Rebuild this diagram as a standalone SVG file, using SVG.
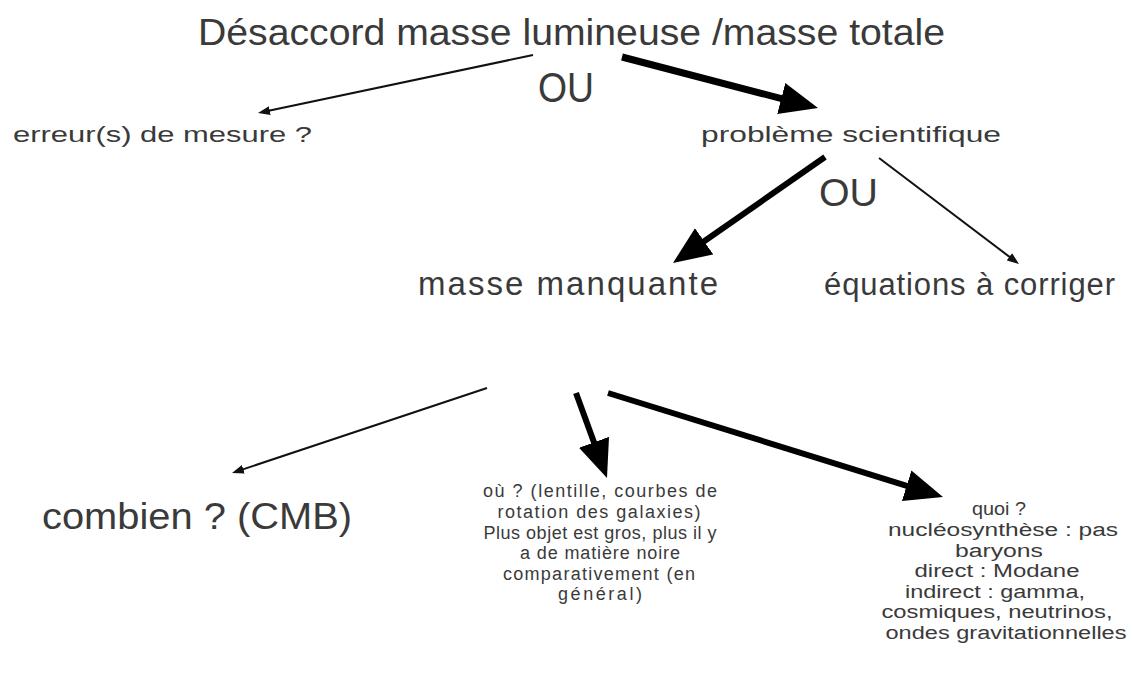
<svg xmlns="http://www.w3.org/2000/svg" width="1133" height="686" viewBox="0 0 1133 686">
<style>
text{font-family:"Liberation Sans",Arial,sans-serif;fill:#3a3a3a}
.thick{stroke:#000;fill:none;stroke-linecap:butt}
.thin{stroke:#111;fill:none;stroke-width:2}
.s{font-size:18px;text-anchor:middle}
</style>
<defs>
<marker id="big" markerUnits="userSpaceOnUse" markerWidth="38" markerHeight="32" viewBox="0 0 38 32" refX="17" refY="16" orient="auto"><path d="M0,0 L38,16 L0,32 z" fill="#000"/></marker>
<marker id="small" markerUnits="userSpaceOnUse" markerWidth="12" markerHeight="9" viewBox="0 0 12 9" refX="6" refY="4.5" orient="auto"><path d="M0,0 L12,4.5 L0,9 z" fill="#111"/></marker>
</defs>
<rect width="1133" height="686" fill="#fff"/>
<g id="connectors">
<line class="thin" x1="533" y1="55" x2="263.9" y2="111.8" marker-end="url(#small)"/>
<line class="thick" stroke-width="7" x1="622" y1="57" x2="797.7" y2="102.8" marker-end="url(#big)"/>
<line class="thick" stroke-width="6" x1="825" y1="157" x2="690.2" y2="251" marker-end="url(#big)"/>
<line class="thin" stroke-width="1.6" x1="879" y1="158" x2="1014.2" y2="260.4" marker-end="url(#small)"/>
<line class="thin" x1="487" y1="388" x2="237.7" y2="471.1" marker-end="url(#small)"/>
<line class="thick" stroke-width="6" x1="576" y1="393" x2="599.8" y2="458.3" marker-end="url(#big)"/>
<line class="thick" stroke-width="6" x1="608" y1="393" x2="922.9" y2="490.8" marker-end="url(#big)"/>
</g>
<g id="title"><text x="198" y="45" font-size="36" textLength="747" lengthAdjust="spacingAndGlyphs">Désaccord masse lumineuse /masse totale</text></g>
<g id="ou1"><text x="538" y="102" font-size="42" textLength="56" lengthAdjust="spacingAndGlyphs">OU</text></g>
<g id="erreur"><text x="13" y="142" font-size="22" textLength="299" lengthAdjust="spacingAndGlyphs">erreur(s) de mesure  ?</text></g>
<g id="probleme"><text x="701" y="142" font-size="22" textLength="300" lengthAdjust="spacingAndGlyphs">problème scientifique</text></g>
<g id="ou2"><text x="819" y="206" font-size="38" textLength="59" lengthAdjust="spacingAndGlyphs">OU</text></g>
<g id="masse"><text x="418" y="295" font-size="33" textLength="300" lengthAdjust="spacing">masse manquante</text></g>
<g id="equations"><text x="824" y="295" font-size="31" textLength="291" lengthAdjust="spacing">équations à corriger</text></g>
<g id="combien"><text x="42" y="529" font-size="36" textLength="310" lengthAdjust="spacingAndGlyphs">combien ? (CMB)</text></g>
<g id="ou">
<text class="s" x="600" y="497" textLength="234" lengthAdjust="spacing">où ? (lentille, courbes de</text>
<text class="s" x="599" y="518" textLength="203" lengthAdjust="spacing">rotation des galaxies)</text>
<text class="s" x="600" y="539" textLength="233" lengthAdjust="spacing">Plus objet est gros, plus il y</text>
<text class="s" x="600" y="559" textLength="160" lengthAdjust="spacing">a de matière noire</text>
<text class="s" x="599" y="580" textLength="192" lengthAdjust="spacing">comparativement (en</text>
<text class="s" x="600" y="600" textLength="84" lengthAdjust="spacing">général)</text>
</g>
<g id="quoi">
<text class="s" x="999" y="515" textLength="54" lengthAdjust="spacingAndGlyphs">quoi ?</text>
<text class="s" x="1003" y="536" textLength="230" lengthAdjust="spacingAndGlyphs">nucléosynthèse : pas</text>
<text class="s" x="999" y="557" textLength="88" lengthAdjust="spacingAndGlyphs">baryons</text>
<text class="s" x="997" y="577" textLength="165" lengthAdjust="spacingAndGlyphs">direct : Modane</text>
<text class="s" x="995" y="598" textLength="180" lengthAdjust="spacingAndGlyphs">indirect : gamma,</text>
<text class="s" x="997" y="618" textLength="231" lengthAdjust="spacingAndGlyphs">cosmiques, neutrinos,</text>
<text class="s" x="1006" y="639" textLength="241" lengthAdjust="spacingAndGlyphs">ondes gravitationnelles</text>
</g>
</svg>
